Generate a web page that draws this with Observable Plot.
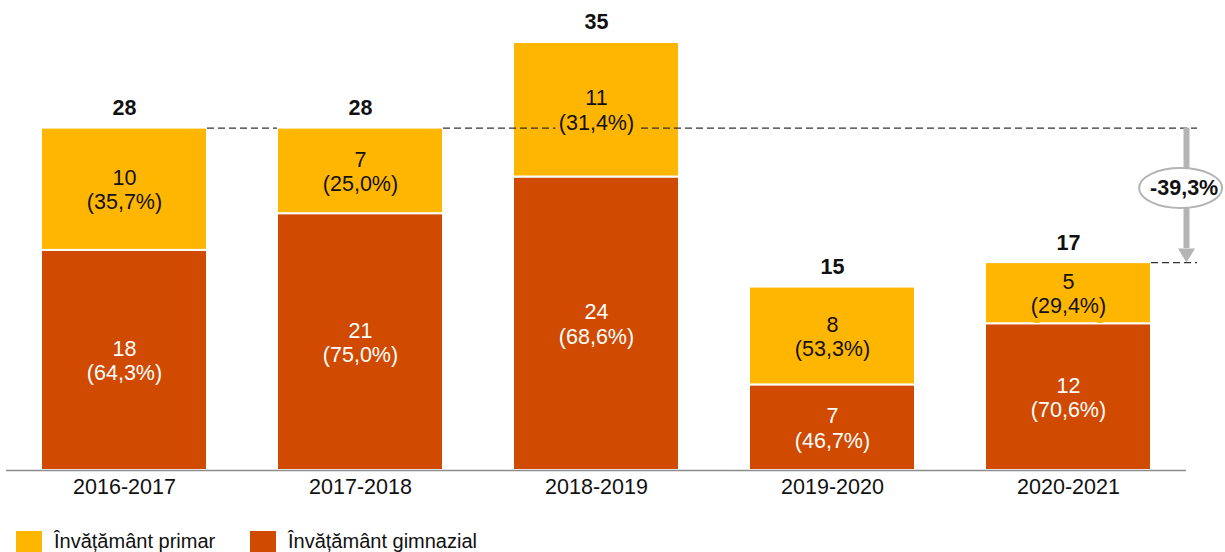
<!DOCTYPE html>
<html>
<head>
<meta charset="utf-8">
<script src="https://cdn.jsdelivr.net/npm/d3@7"></script>
<script src="https://cdn.jsdelivr.net/npm/@observablehq/plot@0.6"></script>
<style>
  html, body { margin: 0; padding: 0; background: #fff; }
  body { width: 1225px; height: 552px; overflow: hidden; font-family: "Liberation Sans", Arial, sans-serif; }
  #chart svg { display: block; }
  .legend { display: flex; align-items: center; padding-left: 16px; margin-top: 15px; font-size: 20px; color: #111; }
  .legend .item { display: flex; align-items: center; }
  .legend .item:first-child { width: 234px; }
  .legend .sw { width: 26px; height: 22px; margin-right: 12px; flex: none; }
</style>
</head>
<body>
<div id="chart"></div>
<script>
// ---- data ----
const years = ["2016-2017", "2017-2018", "2018-2019", "2019-2020", "2020-2021"];
const seriesNames = ["Învățământ primar", "Învățământ gimnazial"];
const primar = [10, 7, 11, 8, 5];
const gimnazial = [18, 21, 24, 7, 12];
const primarPct = ["35,7%", "25,0%", "31,4%", "53,3%", "29,4%"];
const gimnazialPct = ["64,3%", "75,0%", "68,6%", "46,7%", "70,6%"];
const totals = [28, 28, 35, 15, 17];
const changeLabel = "-39,3%";
const changeFrom = 28;
const changeTo = 17;

// ---- styling ----
const FS = 21.5;
const colors = {"Învățământ primar": "#FFB600", "Învățământ gimnazial": "#D04A02"};
const textColors = {"Învățământ primar": "#111111", "Învățământ gimnazial": "#ffffff"};

const rows = [];
years.forEach((y, i) => {
  rows.push({i, year: y, series: seriesNames[1], value: gimnazial[i], pct: gimnazialPct[i]});
  rows.push({i, year: y, series: seriesNames[0], value: primar[i], pct: primarPct[i]});
});
const totalRows = years.map((y, i) => ({i, total: totals[i]}));

const half = 0.5, inset = 35;
const edge = 0.5 - inset / 236; // bar half-width in x units
const last = years.length - 1;
const arrowX = last + 0.5;
const dashEnd = last + 0.547;

const dashes = [
  {y: changeFrom, x1: 0 + edge, x2: 1 - edge},
  {y: changeFrom, x1: 1 + edge, x2: dashEnd},
  {y: changeTo, x1: last + edge, x2: dashEnd}
];

const arrowHead = {draw(ctx) { ctx.moveTo(-8.5, -14); ctx.lineTo(8.5, -14); ctx.lineTo(0, 0); ctx.closePath(); }};
const ellipse = {draw(ctx) {
  const rx = 41.5, ry = 20, k = 0.5523;
  ctx.moveTo(-rx, 0);
  ctx.bezierCurveTo(-rx, -ry * k, -rx * k, -ry, 0, -ry);
  ctx.bezierCurveTo(rx * k, -ry, rx, -ry * k, rx, 0);
  ctx.bezierCurveTo(rx, ry * k, rx * k, ry, 0, ry);
  ctx.bezierCurveTo(-rx * k, ry, -rx, ry * k, -rx, 0);
  ctx.closePath();
}};
const midY = (changeFrom + changeTo) / 2 + 0.6;

const chart = Plot.plot({
  width: 1225,
  height: 515,
  marginLeft: 6,
  marginRight: 39,
  marginTop: 42,
  marginBottom: 45,
  style: {fontFamily: "'Liberation Sans', Arial, sans-serif", fontSize: FS + "px", color: "#111"},
  x: {domain: [-0.5, last + 0.5], axis: null},
  y: {domain: [0, 35], axis: null},
  color: {type: "identity"},
  marks: [
    Plot.rectY(rows, Plot.stackY({
      x1: d => d.i - half, x2: d => d.i + half, y: "value", z: "series",
      fill: d => colors[d.series], insetLeft: inset, insetRight: inset,
      stroke: "white", strokeWidth: 2
    })),
    Plot.ruleY([0], {stroke: "#8c8c8c", strokeWidth: 1.5}),
    Plot.ruleY(dashes, {y: "y", x1: "x1", x2: "x2", stroke: "#333", strokeWidth: 1.3, strokeDasharray: "7,4"}),
    Plot.text(rows, Plot.stackY({
      x: "i", y: "value", z: "series",
      text: d => `${d.value}\n(${d.pct})`,
      fill: d => textColors[d.series],
      stroke: d => colors[d.series], strokeWidth: 10, paintOrder: "stroke",
      lineHeight: 1.13, fontSize: FS
    })),
    Plot.text(totalRows, {x: "i", y: "total", text: d => String(d.total), dy: -20, fontWeight: "bold", fontSize: FS, fill: "#111"}),
    Plot.axisX({ticks: years.map((_, i) => i), tickFormat: i => years[i], tickSize: 0, tickPadding: 8, fontSize: FS, fill: "#111"}),
    // change arrow
    Plot.ruleX([arrowX], {y1: changeFrom, y2: changeTo + 1.15, stroke: "#b4b4b4", strokeWidth: 6}),
    Plot.dot([arrowX], {x: d => d, y: changeTo, symbol: arrowHead, r: 5, fill: "#b4b4b4", stroke: "none"}),
    Plot.dot([arrowX], {x: d => d - 0.025, y: midY, symbol: ellipse, r: 5, fill: "white", stroke: "#b4b4b4", strokeWidth: 2}),
    Plot.text([changeLabel], {x: arrowX - 0.01, y: midY, text: d => d, fontWeight: "bold", fontSize: FS, fill: "#111"})
  ]
});
document.getElementById("chart").append(chart);

const legend = document.createElement("div");
legend.className = "legend";
seriesNames.forEach(name => {
  const item = document.createElement("div");
  item.className = "item";
  const sw = document.createElement("span");
  sw.className = "sw";
  sw.style.background = colors[name];
  const lab = document.createElement("span");
  lab.textContent = name;
  item.append(sw, lab);
  legend.append(item);
});
document.getElementById("chart").append(legend);
</script>
</body>
</html>
